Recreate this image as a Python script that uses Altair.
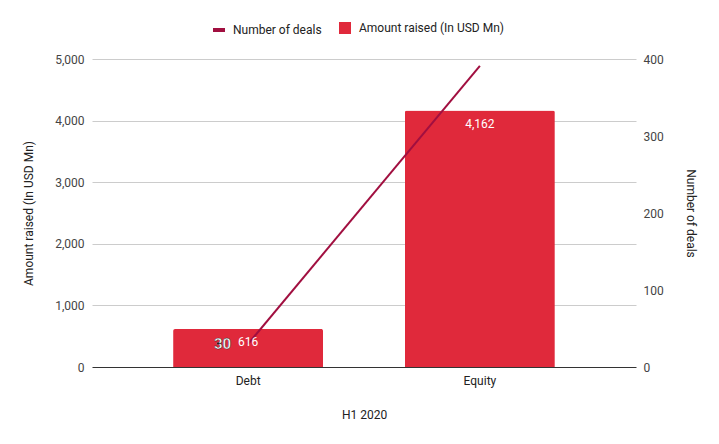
import altair as alt
import pandas as pd

categories = ["Debt", "Equity"]
amount_raised = [616, 4162]
number_of_deals = [30, 391]
left_ticks = [0, 1000, 2000, 3000, 4000, 5000]
right_ticks = [0, 100, 200, 300, 400]

df = pd.DataFrame({
    "category": categories,
    "amount": amount_raised,
    "deals": number_of_deals,
    "bar_series": ["Amount raised (In USD Mn)"] * 2,
    "line_series": ["Number of deals"] * 2,
})

BAR = "#e0293b"
LINE = "#a10f40"
FONT = "Roboto"

x = alt.X("category:N", sort=categories, title="H1 2020",
          scale=alt.Scale(paddingInner=0.353, paddingOuter=0.35),
          axis=alt.Axis(labelAngle=0, domain=False, ticks=False, grid=False,
                        labelPadding=8, titlePadding=23, labelFontSize=12,
                        labelColor="#222", titleFontSize=12, titleFontWeight="normal",
                        titleColor="#222", labelFont=FONT, titleFont=FONT))

yl_scale = alt.Scale(domain=[0, 5000])
yr_scale = alt.Scale(domain=[0, 400])

base = alt.Chart(df)

bars = base.mark_bar(cornerRadiusTopLeft=2, cornerRadiusTopRight=2).encode(
    x=x,
    y=alt.Y("amount:Q", scale=yl_scale, title="Amount raised (In USD Mn)",
            axis=alt.Axis(values=left_ticks, format=",.0f", domain=False, ticks=False,
                          grid=True,
                          gridColor=alt.condition("datum.value == 0", alt.value("#333333"), alt.value("#cccccc")),
                          labelPadding=8,
                          titlePadding=19, labelFontSize=12, labelColor="#444",
                          titleFontSize=12, titleFontWeight="normal", titleColor="#222",
                          labelFont=FONT, titleFont=FONT)),
    fill=alt.Fill("bar_series:N", scale=alt.Scale(range=[BAR]),
                  legend=alt.Legend(title=None, orient="none", legendX=247, legendY=-37,
                                    symbolType="square", symbolSize=144,
                                    symbolStrokeWidth=0, labelFontSize=12,
                                    labelColor="#222", labelFont=FONT, labelOffset=8,
                                    padding=0)),
)

line = base.mark_line(strokeWidth=2).encode(
    x=x,
    y=alt.Y("deals:Q", scale=yr_scale, title="Number of deals",
            axis=alt.Axis(orient="right", values=right_ticks, domain=False, ticks=False,
                          grid=False, labelPadding=7, titlePadding=20,
                          labelFontSize=12, labelColor="#444", titleFontSize=12,
                          titleFontWeight="normal", titleColor="#222",
                          labelFont=FONT, titleFont=FONT)),
    stroke=alt.Stroke("line_series:N", scale=alt.Scale(range=[LINE]),
                      legend=alt.Legend(title=None, orient="none", legendX=119, legendY=-37,
                                        symbolType="stroke", symbolSize=144,
                                        symbolStrokeWidth=4, labelFontSize=12,
                                        labelColor="#222", labelFont=FONT, labelOffset=6,
                                        padding=0)),
)

bar_labels = base.mark_text(color="white", fontSize=12, font=FONT, baseline="top", dy=8).encode(
    x=x,
    y=alt.Y("amount:Q", scale=yl_scale, axis=None),
    text=alt.Text("amount:Q", format=",.0f"),
)

line_labels = base.mark_text(fill="white", stroke="#222222", strokeWidth=0.45,
                             fontSize=15, fontWeight="bold", font=FONT,
                             align="right", baseline="middle", dx=-17).encode(
    x=x,
    y=alt.Y("deals:Q", scale=yr_scale, axis=None),
    text=alt.Text("deals:Q"),
).transform_filter(alt.datum.category == "Debt")

chart = alt.layer(bars, line, bar_labels, line_labels).resolve_scale(
    y="independent", fill="independent", stroke="independent"
).properties(
    width=544, height=308,
    background="white",
    autosize=alt.AutoSizeParams(type="none"),
    padding={"left": 84, "top": 51, "right": 70, "bottom": 60},
).configure(
    style={"cell": {"stroke": "transparent", "strokeWidth": 0}}
).configure_view(stroke="transparent", strokeWidth=0).configure_axisY(
    domainColor="transparent", tickColor="transparent"
).configure_axisX(gridColor="transparent", domainColor="transparent", tickColor="transparent")

chart.save("out.html", embed_options={"renderer": "svg", "actions": False})
